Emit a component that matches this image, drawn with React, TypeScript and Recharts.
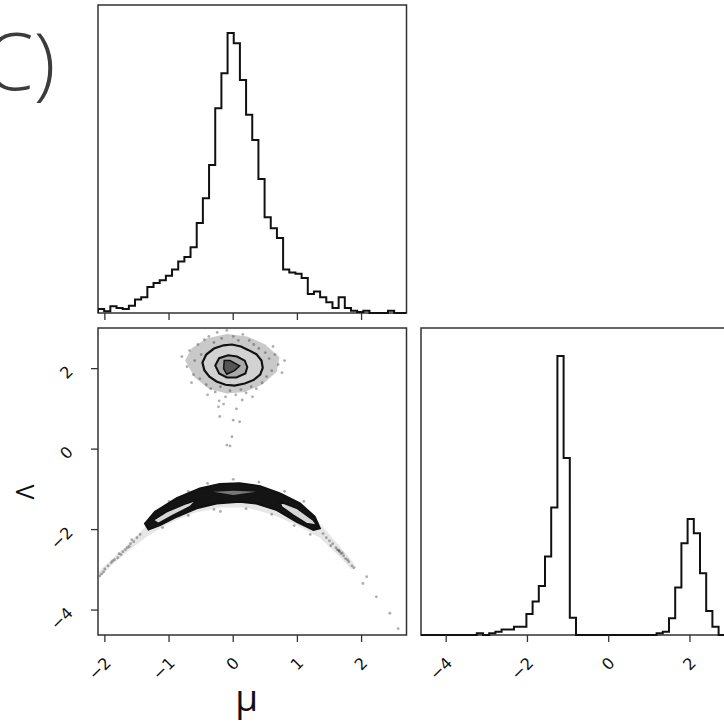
import React from "react";
import {
  LineChart,
  Line,
  ScatterChart,
  Scatter,
  XAxis,
  YAxis,
  ReferenceArea,
} from "recharts";

// axis ranges shared by the panels
const MU_RANGE: [number, number] = [-2.107, 2.7];
const NU_RANGE: [number, number] = [-4.62, 3.01];
const HIST_TOP = 1100;

const muTicks = [-2, -1, 0, 1, 2];
const nuTicks = [-4, -2, 0, 2];

// 50-bin marginal histograms (peak normalised to 1000)
const muCounts = [
  14, 6, 24, 18, 14, 26, 48, 56, 93, 107, 117, 133, 155, 184, 200, 235, 321,
  410, 529, 731, 856, 1000, 963, 832, 708, 618, 479, 342, 303, 268, 155, 145,
  140, 125, 68, 77, 56, 38, 18, 56, 18, 8, 4, 8, 0, 0, 0, 8, 0, 0,
];
const nuCounts = [
  0, 0, 0, 0, 0, 0, 0, 0, 0, 6, 0, 6, 12, 20, 20, 30, 30, 75, 120, 176, 281,
  457, 1000, 634, 62, 0, 0, 0, 0, 0, 0, 0, 0, 0, 0, 0, 0, 0, 6, 12, 60, 170,
  329, 416, 365, 221, 86, 30, 0, 0,
];

// joint (mu, Lambda) density: haze outlines, contour levels and stray samples
const blobHaze: [number, number][] = [
  [-0.75, 2.2], [-0.65, 2.5], [-0.42, 2.75], [-0.1, 2.86], [0.22, 2.8],
  [0.5, 2.6], [0.72, 2.28], [0.68, 1.92], [0.45, 1.6], [0.18, 1.42],
  [-0.1, 1.38], [-0.38, 1.5], [-0.6, 1.78],
];
const blobOuter: [number, number][] = [
  [-0.48, 2.15], [-0.42, 2.35], [-0.3, 2.5], [-0.15, 2.58], [-0.02, 2.6],
  [0.12, 2.55], [0.24, 2.46], [0.36, 2.36], [0.44, 2.2], [0.46, 2.02],
  [0.42, 1.85], [0.32, 1.72], [0.18, 1.63], [0.02, 1.58], [-0.12, 1.6],
  [-0.26, 1.68], [-0.37, 1.8], [-0.45, 1.96],
];
const blobMiddle: [number, number][] = [
  [-0.28, 2.08], [-0.22, 2.26], [-0.08, 2.33], [0.06, 2.3], [0.18, 2.2],
  [0.22, 2.04], [0.19, 1.88], [0.05, 1.78], [-0.1, 1.78], [-0.22, 1.88],
];
const blobCore: [number, number][] = [
  [-0.14, 2.2], [-0.05, 2.2], [0.1, 2.07], [0.02, 1.95], [-0.1, 1.86],
  [-0.15, 2.0],
];
const arcHaze: [number, number][] = [
  [-2.1, -3.05], [-1.85, -2.68], [-1.6, -2.3], [-1.35, -1.9], [-1.0, -1.38],
  [-0.6, -1.05], [-0.2, -0.9], [0.2, -0.9], [0.6, -1.03], [1.0, -1.33],
  [1.35, -1.85], [1.6, -2.3], [1.82, -2.72], [1.92, -2.95], [1.84, -2.98],
  [1.6, -2.58], [1.35, -2.2], [1.0, -1.9], [0.6, -1.62], [0.2, -1.45],
  [-0.2, -1.45], [-0.6, -1.58], [-1.0, -1.85], [-1.35, -2.18], [-1.65, -2.55],
  [-1.9, -2.9], [-2.1, -3.22],
];
const arcOuter: [number, number][] = [
  [-1.375, -1.85], [-1.22, -1.56], [-0.88, -1.22], [-0.52, -0.975],
  [-0.21, -0.87], [0.1, -0.85], [0.42, -0.92], [0.73, -1.1], [1.04, -1.35],
  [1.27, -1.68], [1.35, -1.97], [1.25, -2.01], [0.99, -1.81], [0.68, -1.515],
  [0.36, -1.35], [0.1, -1.31], [-0.26, -1.35], [-0.57, -1.47], [-0.88, -1.68],
  [-1.14, -1.89], [-1.32, -2.0],
];
const arcLeftLobe: [number, number][] = [
  [-1.246, -1.764], [-1.04, -1.557], [-0.726, -1.35], [-0.57, -1.266],
  [-0.675, -1.433], [-0.935, -1.64], [-1.168, -1.846],
];
const arcRightLobe: [number, number][] = [
  [0.727, -1.31], [0.99, -1.47], [1.246, -1.764], [1.3, -1.89],
  [1.14, -1.846], [0.935, -1.64], [0.754, -1.433],
];
const arcRidge: [number, number][] = [
  [-0.31, -1.06], [0.0, -1.035], [0.364, -1.06], [0.0, -1.14],
];
const samples: [number, number][] = [
  // around the upper mode
  [-0.8, 2.3], [-0.72, 2.05], [-0.68, 2.45], [-0.62, 1.85], [-0.6, 2.2],
  [-0.55, 2.6], [-0.52, 1.75], [-0.5, 2.35], [-0.45, 2.72], [-0.42, 1.6],
  [-0.38, 2.8], [-0.35, 1.5], [-0.3, 2.65], [-0.28, 1.42], [-0.25, 2.9],
  [-0.2, 1.55], [-0.18, 2.75], [-0.12, 1.3], [-0.1, 2.95], [-0.05, 1.45],
  [0.0, 2.8], [0.04, 1.35], [0.08, 2.7], [0.12, 1.48], [0.15, 2.85],
  [0.2, 1.4], [0.25, 2.7], [0.28, 1.55], [0.32, 2.6], [0.36, 1.5],
  [0.4, 2.5], [0.45, 1.65], [0.5, 2.4], [0.52, 1.8], [0.56, 2.25],
  [0.6, 1.95], [0.65, 2.35], [0.7, 2.1], [0.76, 1.9], [0.8, 2.2],
  [-0.65, 1.65], [0.62, 2.55], [-0.22, 1.2], [0.14, 1.22], [0.3, 1.3],
  [-0.4, 1.35],
  // trail between the modes
  [-0.23, 1.05], [-0.21, 0.81], [0.0, 0.72], [0.1, 0.68], [-0.02, 0.31],
  [-0.1, 0.1], [-0.05, 0.08], [-0.15, 1.12], [0.05, 1.0],
  // arc wings
  [-1.45, -2.12], [-1.5, -2.2], [-1.55, -2.3], [-1.6, -2.35], [-1.62, -2.42],
  [-1.68, -2.5], [-1.72, -2.55], [-1.75, -2.62], [-1.8, -2.7], [-1.85, -2.75],
  [-1.9, -2.82], [-1.95, -2.9], [-2.0, -2.98], [-2.05, -3.1], [-2.08, -3.15],
  [-1.58, -2.25], [-1.65, -2.45], [-1.78, -2.6], [-1.88, -2.78], [-2.02, -3.05],
  [1.4, -2.1], [1.45, -2.2], [1.5, -2.28], [1.55, -2.35], [1.6, -2.45],
  [1.62, -2.5], [1.68, -2.6], [1.72, -2.65], [1.75, -2.72], [1.8, -2.8],
  [1.85, -2.9], [1.88, -2.95], [1.52, -2.4], [1.66, -2.55], [1.78, -2.75],
  [1.7, -2.58], [1.64, -2.51], [1.65, -2.53],
  [2.08, -3.17], [2.02, -3.34], [2.23, -3.67], [2.44, -4.08], [2.57, -4.46],
  // halo along the arc
  [-1.0, -1.3], [-0.7, -1.05], [-0.4, -0.85], [0.0, -0.75], [0.4, -0.82],
  [0.8, -1.05], [1.1, -1.3], [-1.1, -1.95], [-0.7, -1.65], [-0.3, -1.5],
  [0.2, -1.48], [0.6, -1.62], [0.95, -1.9], [1.2, -2.12], [-0.2, -1.55],
];

const toPts = (arr: [number, number][]) => arr.map(([x, y]) => ({ x, y }));

// step outline of a histogram, closed down to zero at both ends
function stepRows(counts: number[], [lo, hi]: [number, number]) {
  const w = (hi - lo) / counts.length;
  const rows = [{ x: lo, y: 0 }];
  counts.forEach((c, i) => rows.push({ x: lo + i * w, y: c }));
  rows.push({ x: hi, y: counts[counts.length - 1] });
  rows.push({ x: hi, y: 0 });
  return rows;
}

const muRows = stepRows(muCounts, MU_RANGE);
const nuRows = stepRows(nuCounts, NU_RANGE);

const fmt = (v: number) => (v < 0 ? "\u2212" + Math.abs(v) : String(v));

const AXIS = "#333";

function AngledTick(props: any) {
  const { x, y, payload, offX, offY } = props;
  const ax = x + offX;
  const ay = y + offY;
  return (
    <g transform={`translate(${ax},${ay}) rotate(-45)`}>
      <text
        x={0}
        y={0}
        textAnchor="end"
        fill="#111"
        fontSize={16}
        fontFamily="'DejaVu Sans', sans-serif"
      >
        {fmt(payload.value)}
      </text>
    </g>
  );
}

const BlankTick = () => <g />;
const NoMark = () => <g />;
const Grain = (p: any) => (
  <circle cx={p.cx} cy={p.cy} r={1.4} fill="#333" fillOpacity={0.4} />
);

export default function App() {
  return (
    <div
      style={{
        position: "fixed",
        left: 0,
        top: 0,
        width: 724,
        height: 724,
        overflow: "hidden",
        background: "#fff",
      }}
    >
      {/* mu marginal */}
      <div style={{ position: "absolute", left: 0, top: 0 }}>
        <LineChart
          width={420}
          height={330}
          data={muRows}
          margin={{ top: 5, left: 98, right: 13.5, bottom: 5 }}
        >
          <XAxis
            type="number"
            dataKey="x"
            domain={MU_RANGE}
            ticks={muTicks}
            allowDataOverflow
            height={12}
            axisLine={false}
            tick={<BlankTick />}
            tickSize={7}
            tickLine={{ stroke: AXIS, strokeWidth: 1.3 }}
          />
          <YAxis hide domain={[0, HIST_TOP]} />
          <Line
            type="stepAfter"
            dataKey="y"
            stroke="#111"
            strokeWidth={2}
            dot={false}
            isAnimationActive={false}
          />
          <ReferenceArea
            x1={MU_RANGE[0]}
            x2={MU_RANGE[1]}
            y1={0}
            y2={HIST_TOP}
            fill="none"
            stroke={AXIS}
            strokeWidth={1.5}
          />
        </LineChart>
      </div>

      {/* joint panel */}
      <div style={{ position: "absolute", left: 0, top: 320 }}>
        <ScatterChart
          width={420}
          height={404}
          margin={{ top: 8, left: 58, right: 13.5, bottom: 59 }}
        >
          <XAxis
            type="number"
            dataKey="x"
            domain={MU_RANGE}
            ticks={muTicks}
            allowDataOverflow
            height={30}
            axisLine={false}
            tickSize={7}
            tickMargin={0}
            tickLine={{ stroke: AXIS, strokeWidth: 1.3 }}
            tick={<AngledTick offX={7} offY={22} />}
          />
          <YAxis
            type="number"
            dataKey="y"
            domain={NU_RANGE}
            ticks={nuTicks}
            allowDataOverflow
            width={40}
            axisLine={false}
            tickSize={7}
            tickMargin={0}
            tickLine={{ stroke: AXIS, strokeWidth: 1.3 }}
            tick={<AngledTick offX={-17} offY={4} />}
          />
          <Scatter
            data={toPts(arcHaze)}
            line={{ fill: "#808080", fillOpacity: 0.2, stroke: "none" }}
            lineJointType="linearClosed"
            shape={NoMark}
            isAnimationActive={false}
          />
          <Scatter
            data={toPts(blobHaze)}
            line={{ fill: "#707070", fillOpacity: 0.38, stroke: "none" }}
            lineJointType="linearClosed"
            shape={NoMark}
            isAnimationActive={false}
          />
          <Scatter
            data={toPts(samples)}
            shape={Grain}
            isAnimationActive={false}
          />
          <Scatter
            data={toPts(arcOuter)}
            line={{ fill: "#141414", stroke: "#111", strokeWidth: 2 }}
            lineJointType="linearClosed"
            shape={NoMark}
            isAnimationActive={false}
          />
          <Scatter
            data={toPts(arcLeftLobe)}
            line={{ fill: "#d6d6d6", stroke: "#111", strokeWidth: 1.5 }}
            lineJointType="linearClosed"
            shape={NoMark}
            isAnimationActive={false}
          />
          <Scatter
            data={toPts(arcRightLobe)}
            line={{ fill: "#d6d6d6", stroke: "#111", strokeWidth: 1.5 }}
            lineJointType="linearClosed"
            shape={NoMark}
            isAnimationActive={false}
          />
          <Scatter
            data={toPts(arcRidge)}
            line={{ fill: "#777", stroke: "none" }}
            lineJointType="linearClosed"
            shape={NoMark}
            isAnimationActive={false}
          />
          <Scatter
            data={toPts(blobOuter)}
            line={{ fill: "#d2d2d2", stroke: "#111", strokeWidth: 2.2 }}
            lineJointType="linearClosed"
            shape={NoMark}
            isAnimationActive={false}
          />
          <Scatter
            data={toPts(blobMiddle)}
            line={{ fill: "#a9a9a9", stroke: "#111", strokeWidth: 2 }}
            lineJointType="linearClosed"
            shape={NoMark}
            isAnimationActive={false}
          />
          <Scatter
            data={toPts(blobCore)}
            line={{ fill: "#555", stroke: "#111", strokeWidth: 1.5 }}
            lineJointType="linearClosed"
            shape={NoMark}
            isAnimationActive={false}
          />
          <ReferenceArea
            x1={MU_RANGE[0]}
            x2={MU_RANGE[1]}
            y1={NU_RANGE[0]}
            y2={NU_RANGE[1]}
            fill="none"
            stroke={AXIS}
            strokeWidth={1.5}
          />
        </ScatterChart>
      </div>

      {/* Lambda marginal */}
      <div style={{ position: "absolute", left: 410, top: 320 }}>
        <LineChart
          width={340}
          height={404}
          data={nuRows}
          margin={{ top: 8, left: 11, right: 19, bottom: 59 }}
        >
          <XAxis
            type="number"
            dataKey="x"
            domain={NU_RANGE}
            ticks={nuTicks}
            allowDataOverflow
            height={30}
            axisLine={false}
            tickSize={7}
            tickMargin={0}
            tickLine={{ stroke: AXIS, strokeWidth: 1.3 }}
            tick={<AngledTick offX={7} offY={22} />}
          />
          <YAxis hide domain={[0, HIST_TOP]} />
          <Line
            type="stepAfter"
            dataKey="y"
            stroke="#111"
            strokeWidth={2}
            dot={false}
            isAnimationActive={false}
          />
          <ReferenceArea
            x1={NU_RANGE[0]}
            x2={NU_RANGE[1]}
            y1={0}
            y2={HIST_TOP}
            fill="none"
            stroke={AXIS}
            strokeWidth={1.5}
          />
        </LineChart>
      </div>

      {/* panel tag and axis labels */}
      <svg
        width={724}
        height={724}
        style={{ position: "absolute", left: 0, top: 0, pointerEvents: "none" }}
      >
        <text
          x={-16}
          y={90}
          fontSize={80}
          fontWeight={300}
          fill="#3c3c3c"
          fontFamily="'Open Sans', sans-serif"
        >
          C)
        </text>
        <text
          x={246.7}
          y={711}
          textAnchor="middle"
          fontSize={37}
          fill="#111"
          fontFamily="'Open Sans', sans-serif"
        >
          μ
        </text>
        <text
          x={34}
          y={492}
          textAnchor="middle"
          transform="rotate(-90 34 492)"
          fontSize={25}
          fontWeight={500}
          fill="#111"
          fontFamily="'Open Sans', sans-serif"
        >
          Λ
        </text>
      </svg>
    </div>
  );
}
